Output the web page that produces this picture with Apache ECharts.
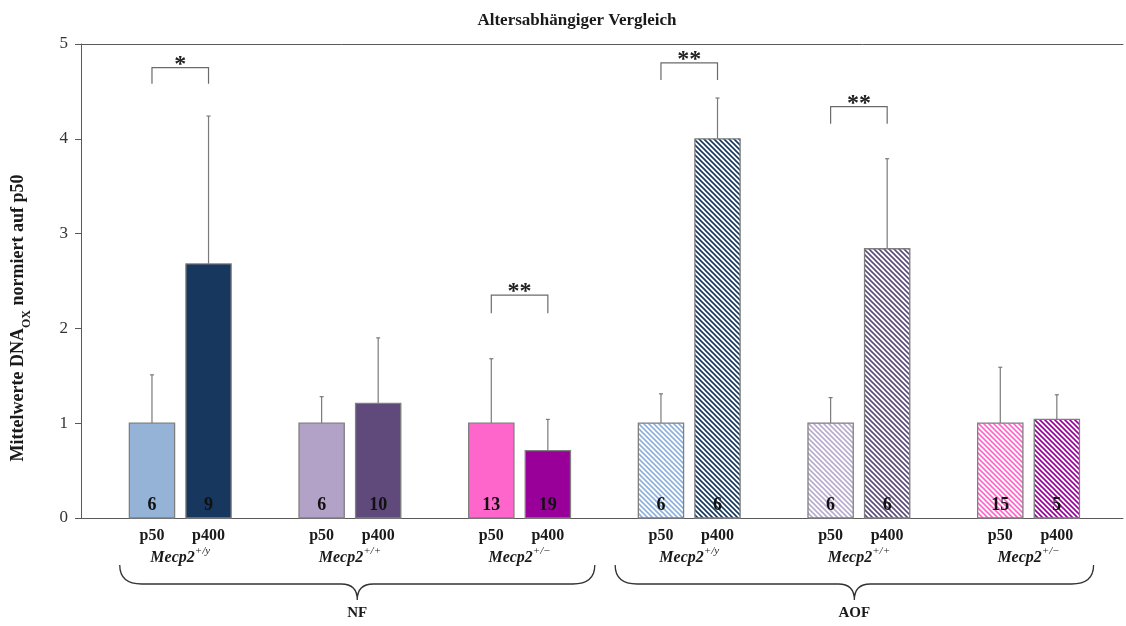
<!DOCTYPE html>
<html>
<head>
<meta charset="utf-8">
<script src="https://cdn.jsdelivr.net/npm/echarts@6/dist/echarts.min.js"></script>
<style>
  html, body { margin: 0; padding: 0; background: #fff; }
  #chart { width: 1126px; height: 626px; }
</style>
</head>
<body>
<div id="chart"></div>
<script>
// Slot positions on the x scale: pairs of bars with an empty slot between genotypes
const positions = [0, 1, 3, 4, 6, 7, 9, 10, 12, 13, 15, 16];
const ageLabels = ['p50', 'p400', 'p50', 'p400', 'p50', 'p400', 'p50', 'p400', 'p50', 'p400', 'p50', 'p400'];
const means = [1.00, 2.68, 1.00, 1.21, 1.00, 0.71, 1.00, 4.00, 1.00, 2.84, 1.00, 1.04];
const sdUp = [0.51, 1.56, 0.28, 0.69, 0.68, 0.33, 0.31, 0.43, 0.27, 0.95, 0.59, 0.26];
const nCounts = [6, 9, 6, 10, 13, 19, 6, 6, 6, 6, 15, 5];
const hatched = [false, false, false, false, false, false, true, true, true, true, true, true];
const barColors = ['#95b3d7', '#17375e', '#b3a2c7', '#604a7b', '#ff66cc', '#990099',
                   '#8eb0dc', '#17375e', '#b9abd0', '#5c4a78', '#ff66cc', '#990099'];

// Genotype labels under each pair
const genoCenters = [0.5, 3.5, 6.5, 9.5, 12.5, 15.5];
const genoSup = ['+/y', '+/+', '+/\u2212', '+/y', '+/+', '+/\u2212'];

// Significance brackets
const sigFrom = [0, 6, 9, 12];
const sigTo = [1, 7, 10, 13];
const sigTop = [4.75, 2.35, 4.80, 4.34];
const sigLeg = [4.58, 2.16, 4.62, 4.16];
const sigText = ['*', '**', '**', '**'];

// Feeding groups spanned by braces
const feedNames = ['NF', 'AOF'];
const feedFrom = [-0.57, 8.19];
const feedTo = [7.83, 16.65];

const yTicks = [0, 1, 2, 3, 4, 5];

const SERIF = '"Liberation Serif", "DejaVu Serif", serif';
const AXIS_GREY = '#595959';
const BAR_EDGE = '#7f7f7f';

function makeHatch(color) {
  const s = 5;
  const c = document.createElement('canvas');
  c.width = s; c.height = s;
  const g = c.getContext('2d');
  g.fillStyle = '#ffffff';
  g.fillRect(0, 0, s, s);
  g.strokeStyle = color;
  g.lineWidth = 1.6;
  g.beginPath();
  g.moveTo(-1, -1); g.lineTo(s + 1, s + 1);
  g.moveTo(-1, s - 1); g.lineTo(1, s + 1);
  g.moveTo(s - 1, -1); g.lineTo(s + 1, 1);
  g.stroke();
  return { image: c, repeat: 'repeat' };
}
const fills = barColors.map((c, i) => hatched[i] ? makeHatch(c) : c);

const labelMap = {};
positions.forEach((p, i) => { labelMap[p] = ageLabels[i]; });
const genoMap = {};
genoCenters.forEach((p, i) => { genoMap[p] = genoSup[i]; });

const xMin = -1.255, xMax = 17.17;

const chart = echarts.init(document.getElementById('chart'), null, { renderer: 'canvas' });

const option = {
  animation: false,
  backgroundColor: '#ffffff',
  title: {
    text: 'Altersabhängiger Vergleich',
    left: 572, top: 7, textAlign: 'center',
    textStyle: { fontFamily: SERIF, fontWeight: 'bold', fontSize: 17, color: '#1a1a1a' }
  },
  grid: { left: 81, right: 3, top: 44, bottom: 108, containLabel: false },
  xAxis: [
    {
      type: 'value', min: xMin, max: xMax, position: 'bottom',
      axisLine: { show: true, onZero: false, lineStyle: { color: AXIS_GREY, width: 1 } },
      axisTick: { show: false }, splitLine: { show: false },
      axisLabel: {
        customValues: positions, margin: 10,
        formatter: v => labelMap[v] || '',
        fontFamily: SERIF, fontWeight: 'bold', fontSize: 16, color: '#1a1a1a'
      }
    },
    {
      type: 'value', min: xMin, max: xMax, position: 'bottom',
      axisLine: { show: false, onZero: false }, axisTick: { show: false }, splitLine: { show: false },
      axisLabel: {
        customValues: genoCenters, margin: 28,
        formatter: v => '{m|Mecp2}{s|' + (genoMap[v] || '') + '}',
        rich: {
          m: { fontFamily: SERIF, fontWeight: 'bold', fontStyle: 'italic', fontSize: 16, color: '#1a1a1a', verticalAlign: 'bottom', lineHeight: 20 },
          s: { fontFamily: SERIF, fontStyle: 'italic', fontSize: 11, color: '#1a1a1a', verticalAlign: 'top', lineHeight: 20 }
        }
      }
    },
    {
      type: 'value', min: xMin, max: xMax, position: 'top',
      axisLine: { show: true, onZero: false, lineStyle: { color: AXIS_GREY, width: 1 } },
      axisTick: { show: false }, splitLine: { show: false }, axisLabel: { show: false }
    }
  ],
  yAxis: {
    type: 'value', min: 0, max: 5, interval: 1, position: 'left',
    axisLine: { show: true, onZero: false, lineStyle: { color: AXIS_GREY, width: 1 } },
    axisTick: { show: true, inside: false, length: 6, lineStyle: { color: AXIS_GREY } },
    splitLine: { show: false },
    axisLabel: {
      margin: 13, formatter: v => yTicks.includes(v) ? String(v) : '',
      fontFamily: SERIF, fontSize: 17, color: '#333333'
    }
  },
  graphic: [
    {
      type: 'text', x: 21, y: 318, rotation: Math.PI / 2,
      style: {
        text: '{b|Mittelwerte DNA}{sub|OX}{b| normiert auf p50}',
        align: 'center', verticalAlign: 'middle',
        rich: {
          b: { fontFamily: SERIF, fontWeight: 'bold', fontSize: 18, fill: '#1a1a1a', color: '#1a1a1a', verticalAlign: 'top', lineHeight: 24 },
          sub: { fontFamily: SERIF, fontWeight: 'bold', fontSize: 12, fill: '#1a1a1a', color: '#1a1a1a', verticalAlign: 'bottom', lineHeight: 24 }
        }
      }
    }
  ],
  series: [
    {
      // bars with the n of each group printed at the foot
      type: 'custom', name: 'bars', xAxisIndex: 0,
      data: positions.map((p, i) => [p, means[i]]),
      renderItem(params, api) {
        const i = params.dataIndex;
        const x = api.value(0), v = api.value(1);
        const base = api.coord([x, 0]);
        const top = api.coord([x, v]);
        const w = api.size([1, 0])[0] * 0.8;
        return {
          type: 'group',
          children: [
            {
              type: 'rect',
              shape: { x: base[0] - w / 2, y: top[1], width: w, height: base[1] - top[1] },
              style: { fill: fills[i], stroke: BAR_EDGE, lineWidth: 1.3 }
            },
            {
              type: 'text', x: base[0], y: base[1] - 4,
              style: {
                text: String(nCounts[i]), align: 'center', verticalAlign: 'bottom',
                fontFamily: SERIF, fontWeight: 'bold', fontSize: 18, fill: '#111111'
              }
            }
          ]
        };
      }
    },
    {
      // upward standard deviation whiskers
      type: 'custom', name: 'sd', xAxisIndex: 0,
      data: positions.map((p, i) => [p, means[i], means[i] + sdUp[i]]),
      renderItem(params, api) {
        const x = api.value(0);
        const a = api.coord([x, api.value(1)]);
        const b = api.coord([x, api.value(2)]);
        return {
          type: 'group',
          children: [
            { type: 'line', shape: { x1: a[0], y1: a[1], x2: b[0], y2: b[1] }, style: { stroke: '#7a7a7a', lineWidth: 1.2 } },
            { type: 'line', shape: { x1: b[0] - 2, y1: b[1], x2: b[0] + 2, y2: b[1] }, style: { stroke: '#7a7a7a', lineWidth: 1.2 } }
          ]
        };
      },
      z: 1
    },
    {
      // significance brackets
      type: 'custom', name: 'sig', xAxisIndex: 0,
      data: sigFrom.map((f, i) => [f, sigTop[i], sigTo[i], sigLeg[i]]),
      renderItem(params, api) {
        const i = params.dataIndex;
        const l = api.coord([api.value(0), api.value(3)]);
        const t = api.coord([api.value(0), api.value(1)]);
        const r = api.coord([api.value(2), api.value(3)]);
        return {
          type: 'group',
          children: [
            {
              type: 'polyline',
              shape: { points: [[l[0], l[1]], [l[0], t[1]], [r[0], t[1]], [r[0], r[1]]] },
              style: { stroke: '#6b6b6b', lineWidth: 1.2, fill: null }
            },
            {
              type: 'text', x: (l[0] + r[0]) / 2, y: t[1] + 9,
              style: {
                text: sigText[i], align: 'center', verticalAlign: 'bottom',
                fontFamily: SERIF, fontWeight: 'bold', fontSize: 24, fill: '#222222'
              }
            }
          ]
        };
      }
    },
    {
      // curly braces grouping the feeding conditions
      type: 'custom', name: 'braces', xAxisIndex: 0, clip: false,
      data: feedFrom.map((f, i) => [f, 0, feedTo[i]]),
      renderItem(params, api) {
        const i = params.dataIndex;
        const a = api.coord([api.value(0), 0]);
        const b = api.coord([api.value(2), 0]);
        const x0 = a[0], x1 = b[0], xc = (x0 + x1) / 2;
        const y0 = a[1] + 47, y1 = a[1] + 66, y2 = a[1] + 82;
        const path = 'M' + x0 + ',' + y0 +
          ' Q' + x0 + ',' + y1 + ' ' + (x0 + 22) + ',' + y1 +
          ' L' + (xc - 16) + ',' + y1 +
          ' Q' + xc + ',' + y1 + ' ' + xc + ',' + y2 +
          ' Q' + xc + ',' + y1 + ' ' + (xc + 16) + ',' + y1 +
          ' L' + (x1 - 22) + ',' + y1 +
          ' Q' + x1 + ',' + y1 + ' ' + x1 + ',' + y0;
        return {
          type: 'group',
          children: [
            { type: 'path', shape: { pathData: path }, style: { stroke: '#333333', lineWidth: 1.3, fill: null } },
            {
              type: 'text', x: xc, y: a[1] + 95,
              style: {
                text: feedNames[i], align: 'center', verticalAlign: 'middle',
                fontFamily: SERIF, fontWeight: 'bold', fontSize: 15, fill: '#1a1a1a'
              }
            }
          ]
        };
      }
    }
  ]
};

chart.setOption(option);
</script>
</body>
</html>
